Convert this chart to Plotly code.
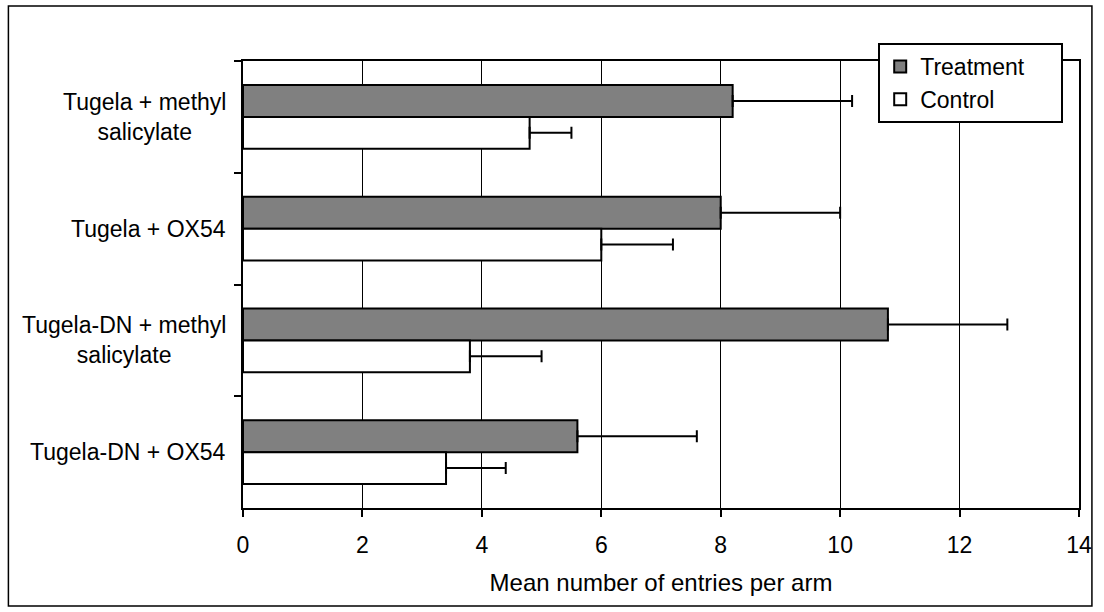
import plotly.graph_objects as go

categories = ["Tugela + methyl<br>salicylate", "Tugela + OX54",
              "Tugela-DN + methyl<br>salicylate", "Tugela-DN + OX54"]
treatment = [8.2, 8.0, 10.8, 5.6]
treatment_err = [2.0, 2.0, 2.0, 2.0]
control = [4.8, 6.0, 3.8, 3.4]
control_err = [0.7, 1.2, 1.2, 1.0]
x_ticks = [0, 2, 4, 6, 8, 10, 12, 14]
series_names = ["Treatment", "Control"]

FONT = "Arial, Liberation Sans, sans-serif"
L, R, T, B = 243, 20, 61, 104
W, H = 1104, 612
pw, ph = W - L - R, H - T - B
PAD = "&nbsp;" * 5

fig = go.Figure()
fig.add_trace(go.Bar(
    y=categories, x=treatment, orientation="h", name=series_names[0] + PAD,
    marker=dict(color="#808080", line=dict(color="black", width=2)),
    error_x=dict(type="data", array=treatment_err, arrayminus=[0] * 4,
                 symmetric=False, color="black", thickness=2, width=6),
))
fig.add_trace(go.Bar(
    y=categories, x=control, orientation="h", name=series_names[1],
    marker=dict(color="white", line=dict(color="black", width=2)),
    error_x=dict(type="data", array=control_err, arrayminus=[0] * 4,
                 symmetric=False, color="black", thickness=2, width=6),
))

for c in categories:
    fig.add_annotation(x=-0.018, xref="paper", y=c, yref="y", text=c,
                       showarrow=False, xanchor="right", yanchor="middle",
                       align="center", font=dict(family=FONT, size=23, color="black"))

# outer frame
fig.add_shape(type="rect", xref="paper", yref="paper",
              x0=(7 - L) / pw, x1=(1097 - L) / pw,
              y0=(H - B - 606) / ph, y1=(H - B - 6) / ph,
              line=dict(color="black", width=1.5), fillcolor="rgba(0,0,0,0)", layer="below")

fig.update_layout(
    width=W, height=H,
    margin=dict(l=L, r=R, t=T, b=B),
    paper_bgcolor="white", plot_bgcolor="white",
    barmode="group", bargap=0.43, bargroupgap=0,
    font=dict(family=FONT, size=23, color="black"),
    showlegend=True,
    legend=dict(x=(882 - L) / pw, y=(H - B - 43) / ph, xanchor="left", yanchor="top",
                bgcolor="white", bordercolor="black", borderwidth=2,
                font=dict(family=FONT, size=23, color="black"),
                traceorder="normal", itemwidth=30),
    xaxis=dict(range=[0, 14], tickvals=x_ticks, ticks="outside", ticklen=7, tickwidth=2,
               tickcolor="black", showline=True, linewidth=2, linecolor="black", mirror=True,
               showgrid=True, gridcolor="black", gridwidth=1, zeroline=False,
               ticklabelstandoff=8,
               title=dict(text="Mean number of entries per arm", font=dict(size=24), standoff=18),
               tickfont=dict(size=23)),
    yaxis=dict(type="category", categoryorder="array", categoryarray=categories,
               autorange="reversed", tickson="boundaries", ticks="outside", ticklen=7,
               tickwidth=2, tickcolor="black", showline=True, linewidth=2, linecolor="black",
               mirror=True, showgrid=False, showticklabels=False, zeroline=False),
)

fig.write_html("out.html", config={"displayModeBar": False},
               post_script="document.body.style.margin='0px';document.body.style.overflow='hidden';")
